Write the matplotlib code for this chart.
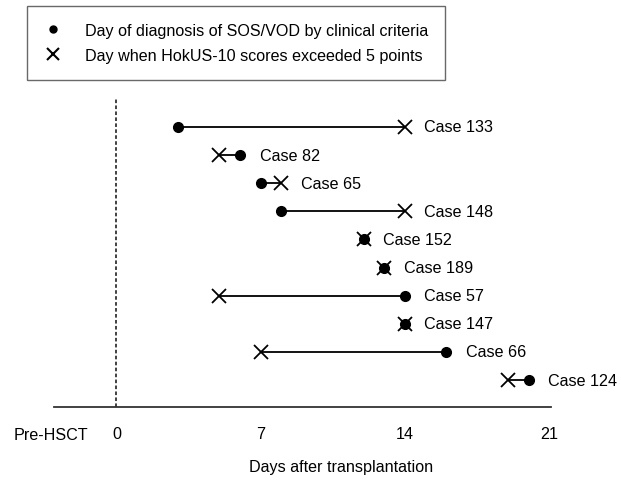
import matplotlib
matplotlib.use('Agg')
import matplotlib.pyplot as plt
from matplotlib.lines import Line2D
from matplotlib.transforms import blended_transform_factory

plt.rcParams['font.family'] = ['Liberation Sans', 'DejaVu Sans']
FS = 11.6
plt.rcParams['font.size'] = FS

cases = ['Case 133', 'Case 82', 'Case 65', 'Case 148', 'Case 152',
         'Case 189', 'Case 57', 'Case 147', 'Case 66', 'Case 124']
diag_day = [3, 6, 7, 8, 12, 13, 14, 14, 16, 20]
hokus_day = [14, 5, 8, 14, 12, 13, 5, 14, 7, 19]
tick_days = [0, 7, 14, 21]
tick_labels = ['0', '7', '14', '21']
pre_label = 'Pre-HSCT'
legend_labels = ['Day of diagnosis of SOS/VOD by clinical criteria',
                 'Day when HokUS-10 scores exceeded 5 points']

W, H = 621, 481
fig = plt.figure(figsize=(W / 100, H / 100), dpi=100)
ax = fig.add_axes([54 / W, 73 / H, 497 / W, 313 / H])

rows = list(range(len(cases)))
for r, name, d, h in zip(rows, cases, diag_day, hokus_day):
    ax.plot([min(d, h), max(d, h)], [r, r], color='black', lw=1.3, zorder=2)
    ax.plot([d], [r], marker='o', ms=7, color='black', ls='none', zorder=3)
    ax.plot([h], [r], marker='x', ms=10, mew=1.3, color='black', ls='none', zorder=4)
    ax.annotate(name, xy=(max(d, h), r), xytext=(14, 0),
                textcoords='offset points', va='center', ha='left', fontsize=FS)

ax.set_xlim(-3.03, 21.09)
ax.set_ylim(9.96, -1.17)
ax.axvline(0, ymin=0, ymax=(408 - 100) / 313, color='#333333', lw=1.3,
           ls=(0, (2, 1.3)), zorder=1)

for s in ['top', 'right', 'left']:
    ax.spines[s].set_visible(False)
ax.spines['bottom'].set_linewidth(1.3)
ax.spines['bottom'].set_color('#333333')
ax.set_yticks([])
ax.set_xticks(tick_days)
ax.set_xticklabels(tick_labels)
ax.tick_params(axis='x', length=0, pad=14, labelsize=FS)

trans = blended_transform_factory(ax.transData, ax.transAxes)
ax.text(-3.18, -0.087, pre_label, transform=trans, ha='center', va='center', fontsize=FS)

fig.text(341 / W, 1 - 468 / H, 'Days after transplantation', ha='center', va='center', fontsize=FS)

handles = [Line2D([], [], marker='o', ms=5, color='black', ls='none'),
           Line2D([], [], marker='x', ms=9, mew=1.5, color='black', ls='none')]
leg = fig.legend(handles, legend_labels, loc='upper left',
                 bbox_to_anchor=(27 / W, 1 - 7 / H), bbox_transform=fig.transFigure,
                 borderaxespad=0, frameon=True, fancybox=False, edgecolor='#444444',
                 borderpad=1.05, labelspacing=0.62, handlelength=1.07, handletextpad=1.5,
                 fontsize=FS)
leg.get_frame().set_linewidth(1.0)

fig.savefig('out.png', dpi=100)
